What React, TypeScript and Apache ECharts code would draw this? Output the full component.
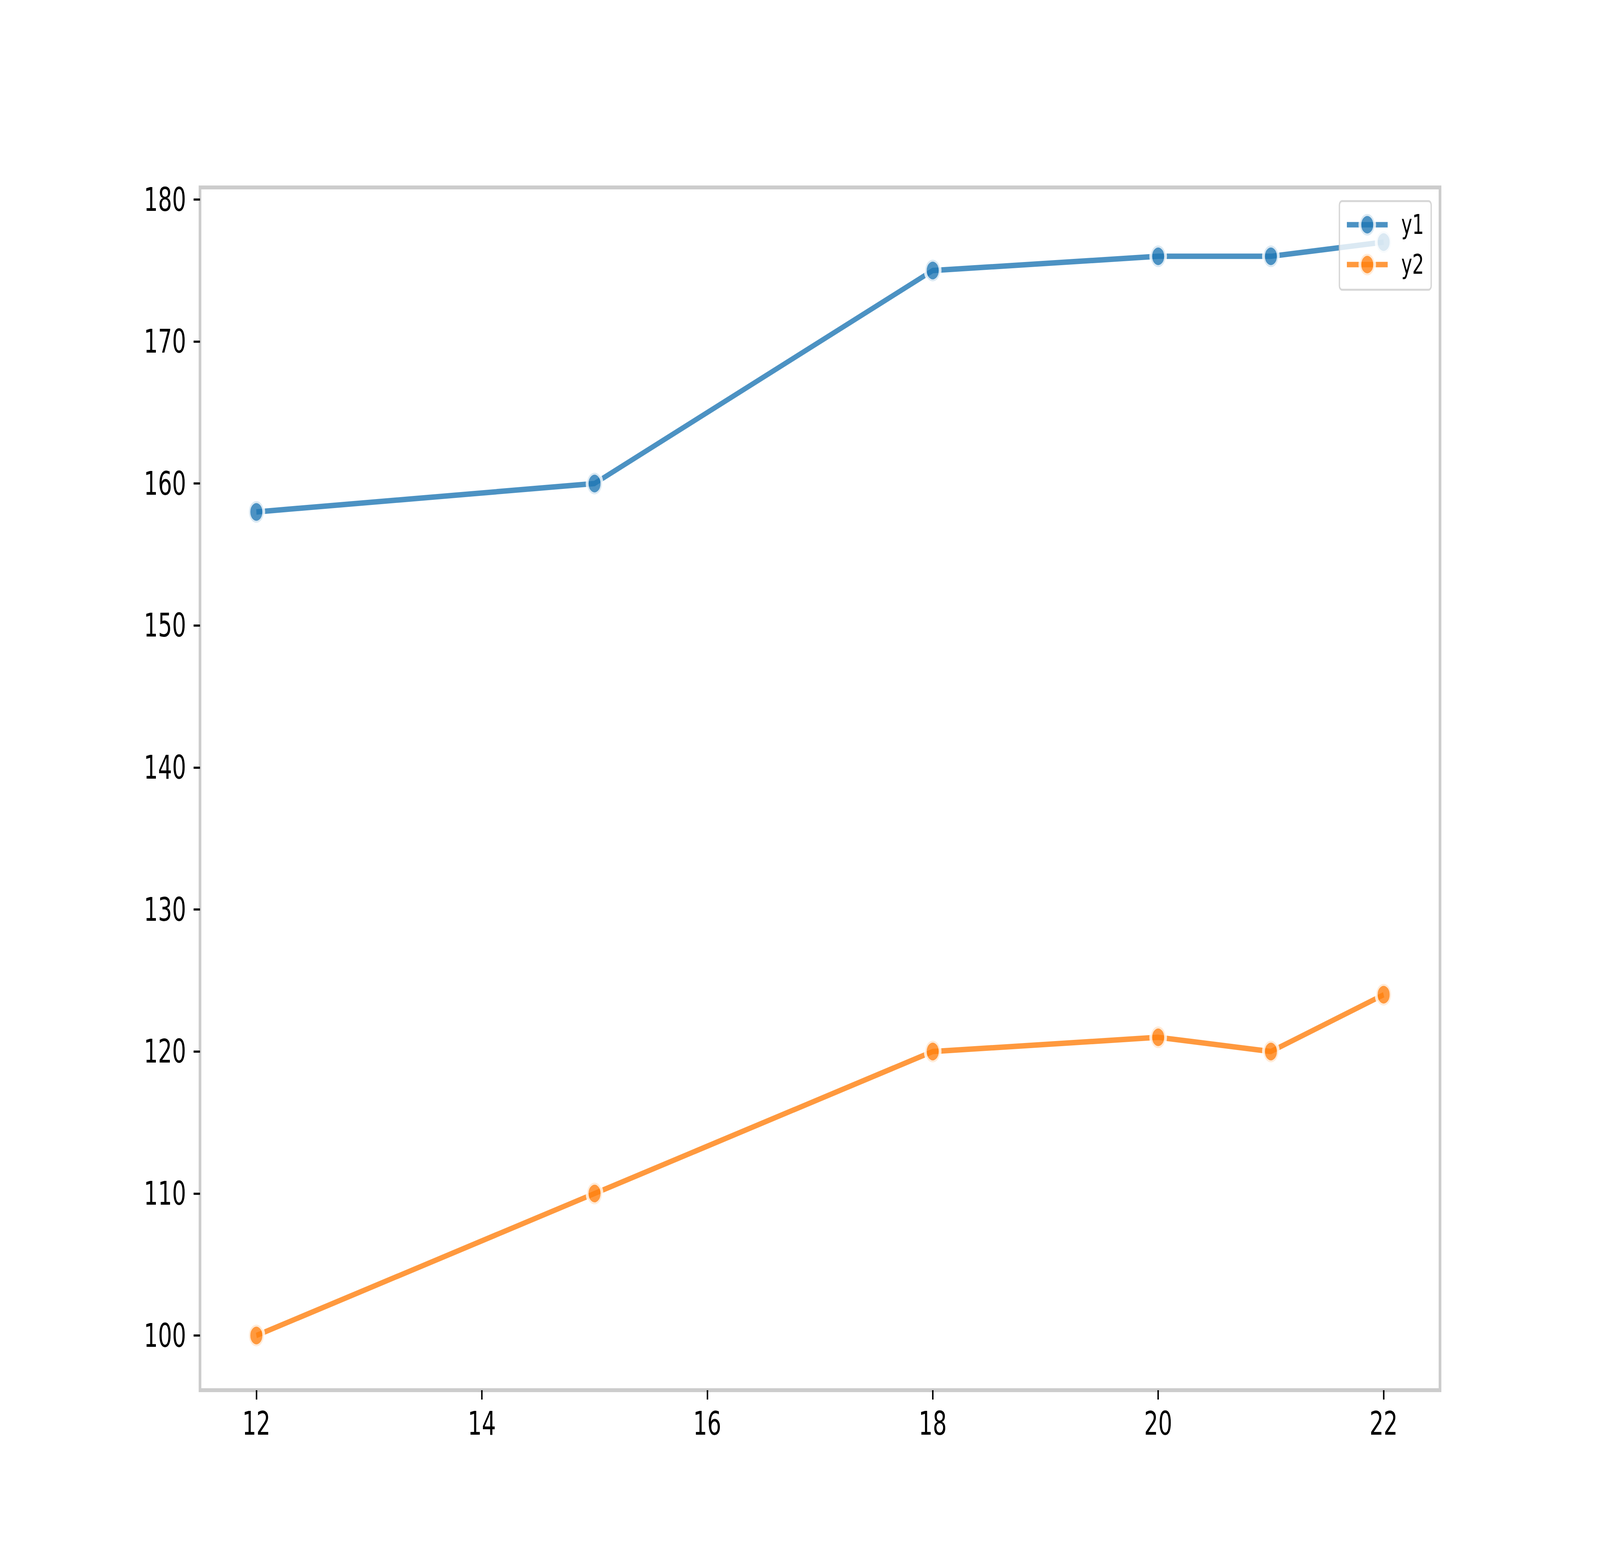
import React, { useEffect, useRef, useState } from "react";
import * as echarts from "echarts";

const xValues = [12, 15, 18, 20, 21, 22];
const y1Values = [158, 160, 175, 176, 176, 177];
const y2Values = [100, 110, 120, 121, 120, 124];
const xTicks = [12, 14, 16, 18, 20, 22];
const yTicks = [100, 110, 120, 130, 140, 150, 160, 170, 180];
const seriesNames = ["y1", "y2"];

const FONT = "DejaVu Sans";
const BLUE = "rgba(31,119,180,0.8)";
const ORANGE = "rgba(255,127,14,0.8)";
const EDGE = "rgba(255,255,255,0.8)";
const W = 6000;
const H = 4000;

function fitScale() {
  const w = window.innerWidth || document.documentElement.clientWidth || W;
  const h = window.innerHeight || document.documentElement.clientHeight || H;
  return { sx: Math.min(1, w / W), sy: Math.min(1, h / H) };
}

export default function App() {
  const ref = useRef<HTMLDivElement>(null);
  const [scale] = useState(fitScale);
  useEffect(() => {
    if (!ref.current) return;
    const chart = echarts.init(ref.current, undefined, { renderer: "svg", width: W, height: H });
    const mk = (name: string, ys: number[], color: string) => ({
      name,
      type: "line",
      data: xValues.map((x, i) => [x, ys[i]]),
      symbol: "circle",
      symbolSize: 55.5,
      showSymbol: true,
      showAllSymbol: true,
      lineStyle: { color, width: 14, cap: "butt", join: "round" },
      itemStyle: { color, borderColor: EDGE, borderWidth: 10.5 },
      emphasis: { disabled: true },
    });
    chart.setOption({
      animation: false,
      backgroundColor: "#ffffff",
      grid: {
        left: 750,
        right: 600,
        top: 480,
        bottom: 440,
        show: true,
        borderColor: "#cccccc",
        borderWidth: 10,
        backgroundColor: "transparent",
        containLabel: false,
        outerBoundsMode: "none",
      },
      xAxis: {
        type: "value",
        min: 11.5,
        max: 22.5,
        axisLine: { show: false },
        splitLine: { show: false },
        axisTick: {
          show: true,
          inside: false,
          length: 24,
          lineStyle: { color: "#000000", width: 5.5 },
          customValues: xTicks,
        },
        axisLabel: {
          show: true,
          margin: 44,
          fontSize: 83,
          fontFamily: FONT,
          color: "#000000",
          customValues: xTicks,
          showMinLabel: true,
          showMaxLabel: true,
        },
      },
      yAxis: {
        type: "value",
        min: 96.15,
        max: 180.85,
        axisLine: { show: false },
        splitLine: { show: false },
        axisTick: {
          show: true,
          inside: false,
          length: 24,
          lineStyle: { color: "#000000", width: 5.5 },
          customValues: yTicks,
        },
        axisLabel: {
          show: true,
          margin: 52,
          fontSize: 83,
          fontFamily: FONT,
          color: "#000000",
          customValues: yTicks,
        },
      },
      legend: {
        data: seriesNames,
        orient: "vertical",
        right: 633,
        top: 515,
        align: "left",
        itemWidth: 153,
        itemHeight: 69,
        itemGap: 33,
        padding: [26, 27, 30, 21],
        backgroundColor: "rgba(255,255,255,0.8)",
        borderColor: "rgba(204,204,204,0.8)",
        borderWidth: 5,
        borderRadius: 10,
        selectedMode: false,
        textStyle: {
          fontSize: 69.4,
          fontFamily: FONT,
          color: "#000000",
          padding: [0, 0, 0, 46],
        },
        itemStyle: { borderColor: EDGE, borderWidth: 10.5 },
        lineStyle: { width: 14 },
      },
      series: [mk(seriesNames[0], y1Values, BLUE), mk(seriesNames[1], y2Values, ORANGE)],
    });
    return () => chart.dispose();
  }, []);
  return (
    <div
      ref={ref}
      style={{
        position: "fixed",
        left: 0,
        top: 0,
        width: W,
        height: H,
        background: "#ffffff",
        transform: `scale(${scale.sx}, ${scale.sy})`,
        transformOrigin: "0 0",
      }}
    />
  );
}
